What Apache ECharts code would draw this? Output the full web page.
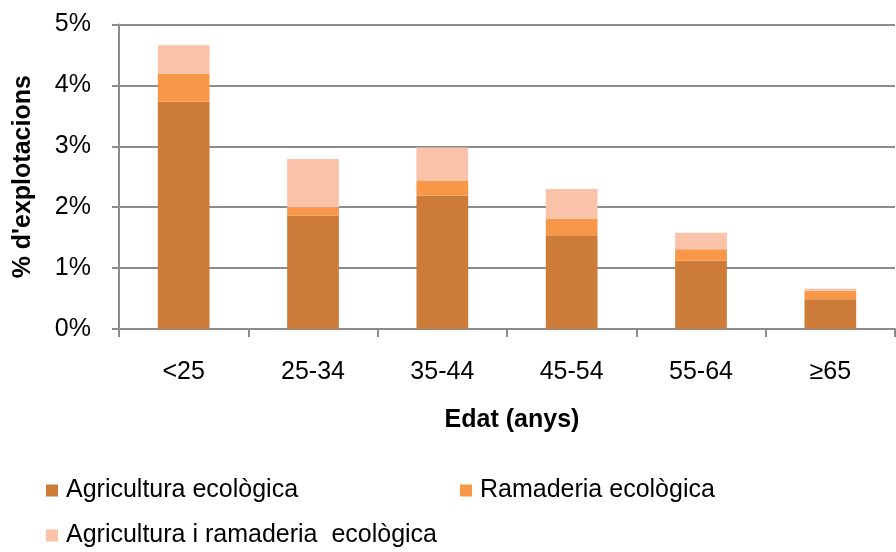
<!DOCTYPE html>
<html>
<head>
<meta charset="utf-8">
<script src="https://cdn.jsdelivr.net/npm/echarts@6/dist/echarts.min.js"></script>
<style>
html,body{margin:0;padding:0;background:#fff;}
#chart{width:896px;height:552px;}
</style>
</head>
<body>
<div id="chart"></div>
<script>
// dades llegides del gràfic (% d'explotacions)
var categories = ['<25', '25-34', '35-44', '45-54', '55-64', '≥65'];
var agricultura = [3.73, 1.86, 2.19, 1.54, 1.12, 0.49];
var ramaderia = [0.46, 0.14, 0.24, 0.27, 0.19, 0.14];
var ambdues = [0.47, 0.79, 0.55, 0.49, 0.27, 0.03];
var yTicks = [0, 1, 2, 3, 4, 5];
var seriesNames = ['Agricultura ecològica', 'Ramaderia ecològica', 'Agricultura i ramaderia  ecològica'];
var colors = ['#cc7b38', '#f79747', '#fac3a9'];

var font = "'Liberation Sans', Arial, sans-serif";
var gray = '#8c8c8c';

var myChart = echarts.init(document.getElementById('chart'));

function legendItem(name, left, top) {
    return {
        data: [name],
        left: left,
        top: top,
        orient: 'horizontal',
        icon: 'rect',
        itemWidth: 12,
        itemHeight: 12,
        itemGap: 0,
        padding: 0,
        selectedMode: false,
        textStyle: {
            fontFamily: font,
            fontSize: 25,
            color: '#000',
            padding: [0, 0, 0, 3]
        }
    };
}

var option = {
    animation: false,
    backgroundColor: '#fff',
    color: colors,
    textStyle: {fontFamily: font},
    grid: {
        left: 119,
        right: 1,
        top: 24.5,
        bottom: 223,
        containLabel: false
    },
    legend: [
        legendItem(seriesNames[0], 46, 478),
        legendItem(seriesNames[1], 460, 478),
        legendItem(seriesNames[2], 46, 523)
    ],
    xAxis: {
        type: 'category',
        data: categories,
        name: 'Edat (anys)',
        nameLocation: 'middle',
        nameGap: 79,
        nameTextStyle: {
            fontFamily: font,
            fontSize: 25,
            fontWeight: 'bold',
            color: '#000',
            padding: [0, 0, 0, 10]
        },
        axisLine: {lineStyle: {color: gray, width: 2}},
        axisTick: {show: true, alignWithLabel: false, length: 8, lineStyle: {color: gray, width: 2}},
        axisLabel: {
            margin: 31,
            fontFamily: font,
            fontSize: 25,
            color: '#000'
        }
    },
    yAxis: {
        type: 'value',
        min: yTicks[0],
        max: yTicks[yTicks.length - 1],
        interval: 1,
        name: "% d'explotacions",
        nameLocation: 'middle',
        nameGap: 83,
        nameTextStyle: {
            fontFamily: font,
            fontSize: 25,
            fontWeight: 'bold',
            color: '#000'
        },
        axisLine: {show: true, lineStyle: {color: gray, width: 2}},
        axisTick: {show: true, length: 7, lineStyle: {color: gray, width: 2}},
        splitLine: {lineStyle: {color: gray, width: 2}},
        axisLabel: {
            margin: 28,
            fontFamily: font,
            fontSize: 25,
            color: '#000',
            formatter: '{value}%'
        }
    },
    series: [
        {name: seriesNames[0], type: 'bar', stack: 'total', barWidth: '40%', data: agricultura},
        {name: seriesNames[1], type: 'bar', stack: 'total', barWidth: '40%', data: ramaderia},
        {name: seriesNames[2], type: 'bar', stack: 'total', barWidth: '40%', data: ambdues}
    ]
};
myChart.setOption(option);
</script>
</body>
</html>
